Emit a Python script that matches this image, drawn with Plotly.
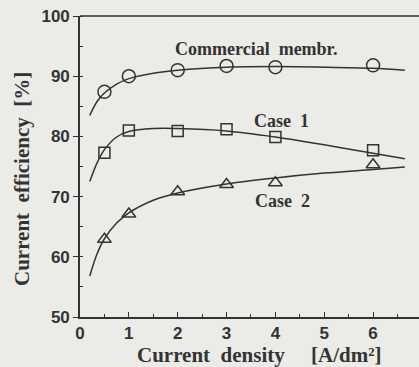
import plotly.graph_objects as go

# measured points
x_pts = [0.5, 1, 2, 3, 4, 6]
commercial = [87.4, 90.0, 91.0, 91.7, 91.5, 91.8]
case1 = [77.3, 81.0, 80.9, 81.2, 79.9, 77.7]
case2 = [62.9, 67.1, 70.8, 72.0, 72.3, 75.3]

# fitted curves
x_com_fit = [0.2, 0.35, 0.5, 0.75, 1, 1.5, 2, 3, 4, 5, 6, 6.65]
y_com_fit = [83.5, 85.8, 87.2, 88.7, 89.6, 90.5, 91.0, 91.5, 91.6, 91.5, 91.3, 91.0]
x_c1_fit = [0.2, 0.35, 0.5, 0.75, 1, 1.5, 2, 3, 4, 5, 6, 6.65]
y_c1_fit = [72.5, 75.6, 77.8, 79.9, 80.8, 81.3, 81.3, 80.9, 79.9, 78.6, 77.2, 76.3]
x_c2_fit = [0.2, 0.35, 0.5, 0.75, 1, 1.5, 2, 3, 4, 5, 6, 6.65]
y_c2_fit = [56.8, 60.5, 63.0, 65.6, 67.3, 69.4, 70.6, 72.1, 73.1, 73.9, 74.5, 74.9]

NB = "\u00a0"
labels = ["Commercial" + NB * 2 + "membr.", "Case" + NB * 2 + "1", "Case" + NB * 2 + "2"]
label_x = [3.6, 4.13, 4.15]
label_y = [94.5, 82.5, 69.2]

ink = "#333333"
bg = "#ebebe7"
serif = "Liberation Serif"
sans = "Liberation Sans Narrow, Liberation Sans, Arial"

fig = go.Figure()
for xf, yf in [(x_com_fit, y_com_fit), (x_c1_fit, y_c1_fit), (x_c2_fit, y_c2_fit)]:
    fig.add_trace(go.Scatter(x=xf, y=yf, mode="lines", line=dict(color=ink, width=1.5, shape="spline", smoothing=1.0),
                             showlegend=False, hoverinfo="skip"))
for ys, sym, sz in [(commercial, "circle-open", 13), (case1, "square-open", 11), (case2, "triangle-up-open", 12)]:
    fig.add_trace(go.Scatter(x=x_pts, y=ys, mode="markers",
                             marker=dict(symbol=sym, size=sz, color=ink, line=dict(width=1.5, color=ink)),
                             showlegend=False))

for t, lx, ly in zip(labels, label_x, label_y):
    fig.add_annotation(x=lx, y=ly, text=t, showarrow=False, xref="x", yref="y",
                       font=dict(family=serif, size=18, color=ink, weight="bold"))

fig.add_annotation(x=259, y=355, xref="paper", yref="paper", xanchor="center", yanchor="middle",
                   text="Current" + NB * 2 + "density" + NB * 5 + "[A/dm\u00b2]", showarrow=False,
                   font=dict(family=serif, size=21, color=ink, weight="bold"))
fig.add_annotation(x=22, y=179, xref="paper", yref="paper", xanchor="center", yanchor="middle",
                   text="Current" + NB * 2 + "efficiency" + NB * 2 + "[%]", showarrow=False, textangle=-90,
                   font=dict(family=serif, size=21, color=ink, weight="bold"))

# convert pixel placements of the two axis titles into paper coordinates
W, H, L, R, T, B = 419, 367, 80, 0, 16, 50
pw, ph = W - L - R, H - T - B
for a in fig.layout.annotations[-2:]:
    a.x = (a.x - L) / pw
    a.y = (H - B - a.y) / ph

fig.update_layout(
    width=W, height=H,
    margin=dict(l=L, r=R, t=T, b=B),
    paper_bgcolor=bg, plot_bgcolor=bg,
    xaxis=dict(range=[0, 6.94], tickvals=[0, 1, 2, 3, 4, 5, 6], showgrid=False, zeroline=False,
               showline=True, linecolor=ink, linewidth=1.6, ticks="inside", ticklen=5, tickwidth=1.4, tickcolor=ink,
               minor=dict(dtick=0.5, ticks="inside", ticklen=3, tickcolor=ink, tickwidth=1.2),
               tickfont=dict(family=sans, size=17, color=ink, weight="bold")),
    yaxis=dict(range=[50, 100], tickvals=[50, 60, 70, 80, 90, 100], showgrid=False, zeroline=False,
               showline=True, linecolor=ink, linewidth=1.6, ticks="outside", ticklen=5, tickwidth=1.4, tickcolor=ink,
               minor=dict(dtick=5, ticks="inside", ticklen=3, tickcolor=ink, tickwidth=1.2),
               tickfont=dict(family=sans, size=17, color=ink, weight="bold")),
)
fig.add_shape(type="line", xref="paper", yref="paper", x0=0, x1=1, y0=1, y1=1, line=dict(color=ink, width=1.6))

fig.write_html("out.html", config={"displayModeBar": False},
               post_script="document.body.style.margin='0';")
